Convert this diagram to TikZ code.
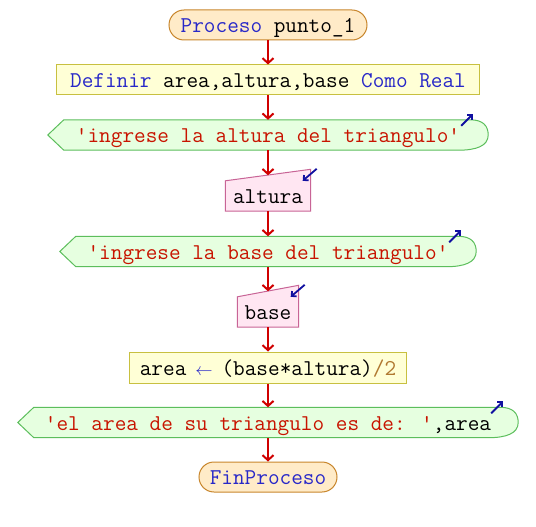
\documentclass[tikz,border=0pt]{standalone}
\usepackage{fontspec}
\usetikzlibrary{arrows.meta,calc,backgrounds}
\definecolor{ckw}{RGB}{40,40,200}
\definecolor{cstr}{RGB}{200,20,0}
\definecolor{cnum}{RGB}{176,120,48}
\definecolor{cflow}{RGB}{208,0,0}
\definecolor{cicon}{RGB}{16,16,160}
\definecolor{termfill}{RGB}{255,235,200}
\definecolor{termdraw}{RGB}{200,134,44}
\definecolor{procfill}{RGB}{255,255,214}
\definecolor{procdraw}{RGB}{200,192,64}
\definecolor{outfill}{RGB}{230,255,224}
\definecolor{outdraw}{RGB}{92,190,92}
\definecolor{infill}{RGB}{255,230,242}
\definecolor{indraw}{RGB}{200,100,150}
\newcommand{\pkw}[1]{\textcolor{ckw}{#1}}
\newcommand{\pstr}[1]{\textcolor{cstr}{#1}}
\newcommand{\pnum}[1]{\textcolor{cnum}{#1}}
\newcommand{\pasig}{\makebox[0.525em]{\fontsize{18}{18}\selectfont$\leftarrow$}}
\tikzset{%
  blk/.style={inner sep=0pt,minimum height=30pt,text height=15pt,text depth=0pt,
    font=\ttfamily\fontsize{22.6}{23}\selectfont},
  term/.style={blk,fill=termfill,draw=termdraw,line width=1pt,rounded corners=15pt},
  proc/.style={blk,fill=procfill,draw=procdraw,line width=1pt},
  outp/.style={blk},
  inp/.style={blk},
  outshape/.style={fill=outfill,draw=outdraw,line width=1pt},
  inshape/.style={fill=infill,draw=indraw,line width=1pt},
  flow/.style={cflow,line width=2pt,-{Straight Barb[length=5pt,width=11pt]}},
  icon/.style={cicon,line width=1.8pt,-{Straight Barb[length=3.5pt,width=7pt]}}
}

\begin{document}
\begin{tikzpicture}[x=1pt,y=-1pt]
  \useasboundingbox (0,0) rectangle (536,527);
  \node[term,minimum width=198pt] (p0) at (268,25) {\pkw{Proceso} punto\_1};
  \node[proc,minimum width=423pt] (d0) at (268,80)
    {\pkw{Definir} area,altura,base \pkw{Como} \pkw{Real}};
  \node[outp,minimum width=440pt] (o1) at (268,135)
    {\pstr{'ingrese la altura del triangulo'}};
  \node[inp,minimum width=85pt] (i1) at (268,196) {altura};
  \node[outp,minimum width=416pt] (o2) at (268,251.5)
    {\pstr{'ingrese la base del triangulo'}};
  \node[inp,minimum width=61pt] (i2) at (268,312) {base};
  \node[proc,minimum width=277pt,minimum height=31pt] (a0) at (268,367.5)
    {area \pkw{\pasig} (base*altura)\pnum{/2}};
  \node[outp,minimum width=500pt] (o3) at (268,422.5)
    {\pstr{'el area de su triangulo es de: '},area};
  \node[term,minimum width=138pt] (p1) at (268,477) {\pkw{FinProceso}};
  %%% shapes behind the texts
  \begin{scope}[on background layer]
    \fill[white] (0,0) rectangle (536,527);
    \foreach \n in {o1,o2,o3} {
      \filldraw[outshape] (\n.west) -- ($(\n.north west)+(16,0)$)
        -- ($(\n.north east)+(-18,0)$)
        .. controls ($(\n.north east)+(-5,0)$) and ($(\n.east)+(0,-9)$) .. (\n.east)
        .. controls ($(\n.east)+(0,11)$) and ($(\n.south east)+(-12,0)$) .. ($(\n.south east)+(-30,0)$)
        -- ($(\n.south west)+(16,0)$) -- cycle;
    }
    \foreach \n in {i1,i2} {
      \filldraw[inshape] (\n.south west) -- (\n.north west)
        -- ($(\n.north east)+(0,-11.5)$) -- (\n.south east) -- cycle;
    }
  \end{scope}
  \foreach \n in {o1,o2,o3}
    \draw[icon] ($(\n.north east)+(-27,6)$) -- ($(\n.north east)+(-15,-6)$);
  \foreach \n in {i1,i2}
    \draw[icon] ($(\n.north east)+(6,-12)$) -- ($(\n.north east)+(-8,0)$);
  \coordinate (i1t) at ($(i1.north)+(0,-5.5)$);
  \coordinate (i2t) at ($(i2.north)+(0,-5.5)$);
  %%% flow
  \draw[flow] (p0) -- (d0);
  \draw[flow] (d0) -- (o1);
  \draw[flow] (o1) -- (i1t);
  \draw[flow] (i1) -- (o2);
  \draw[flow] (o2) -- (i2t);
  \draw[flow] (i2) -- (a0);
  \draw[flow] (a0) -- (o3);
  \draw[flow] (o3) -- (p1);
\end{tikzpicture}
\end{document}
